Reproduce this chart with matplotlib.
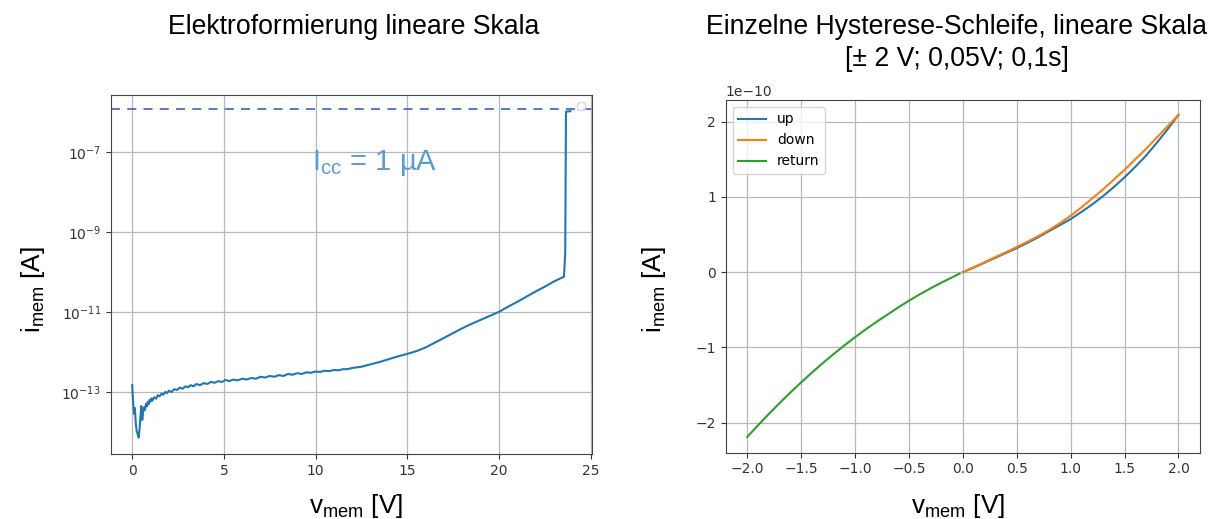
import matplotlib
matplotlib.use("Agg")
import matplotlib.pyplot as plt
from matplotlib.ticker import NullLocator, MultipleLocator
import numpy as np

plt.rcParams["mathtext.default"] = "regular"

# ---- Electroforming sweep (log10 of current in A) ----
form_v = [0.00, 0.05, 0.10, 0.15, 0.20, 0.25, 0.30, 0.35, 0.40, 0.45, 0.50, 0.55,
          0.60, 0.65, 0.70, 0.75, 0.80, 0.85, 0.90, 0.95, 1.00, 1.05, 1.10, 1.20,
          1.30, 1.40, 1.50, 1.60, 1.70, 1.80, 1.90, 2.00, 2.15, 2.30, 2.45, 2.60,
          2.75, 2.90, 3.05, 3.20, 3.35, 3.50, 3.70, 3.90, 4.10, 4.30, 4.50, 4.70,
          4.90, 5.10, 5.30, 5.50, 5.75, 6.00, 6.25, 6.50, 6.75, 7.00, 7.25, 7.50,
          7.75, 8.00, 8.25, 8.50, 8.75, 9.00, 9.25, 9.50, 9.75, 10.00, 10.25, 10.50,
          10.75, 11.00, 11.25, 11.50, 11.75, 12.00, 12.50, 13.00, 13.50, 14.00,
          14.50, 15.00, 15.50, 16.00, 16.50, 17.00, 17.50, 18.00, 18.50, 19.00,
          19.50, 20.00, 20.50, 21.00, 21.50, 22.00, 22.50, 23.00, 23.55, 23.62,
          23.66, 23.75, 23.90]
form_log_i = [-12.83, -13.25, -13.55, -13.40, -13.80, -13.98, -14.05, -14.14, -13.95,
              -13.62, -13.35, -13.70,
              -13.50, -13.38, -13.45, -13.30, -13.36, -13.25, -13.31, -13.20, -13.24,
              -13.16, -13.22, -13.13, -13.17, -13.08, -13.11, -13.04, -13.07, -13.00,
              -13.03, -12.97, -13.00, -12.93, -12.95, -12.89, -12.92, -12.86, -12.88,
              -12.83, -12.86, -12.80, -12.83, -12.78, -12.80, -12.75, -12.77, -12.73,
              -12.75, -12.70, -12.73, -12.69, -12.71, -12.67, -12.69, -12.65, -12.67,
              -12.62, -12.64, -12.60, -12.62, -12.58, -12.60, -12.55, -12.57, -12.53,
              -12.55, -12.51, -12.52, -12.49, -12.50, -12.47, -12.48, -12.45, -12.46,
              -12.43, -12.43, -12.40, -12.37, -12.31, -12.25, -12.18, -12.11, -12.05,
              -11.98, -11.89, -11.77, -11.65, -11.53, -11.41, -11.30, -11.20, -11.10,
              -11.00, -10.87, -10.75, -10.62, -10.49, -10.37, -10.24, -10.12, -9.55,
              -6.00, -5.99, -5.985]
compliance_a = 1.15e-6

# ---- Single hysteresis loop (current in units of 1e-10 A) ----
up_v = [0.0, 0.1, 0.2, 0.3, 0.4, 0.5, 0.6, 0.7, 0.8, 0.9, 1.0,
        1.1, 1.2, 1.3, 1.4, 1.5, 1.6, 1.7, 1.8, 1.9, 2.0]
up_i = [0.0, 0.06, 0.125, 0.19, 0.255, 0.32, 0.39, 0.465, 0.545, 0.625, 0.705,
        0.80, 0.90, 1.01, 1.13, 1.26, 1.40, 1.55, 1.72, 1.90, 2.09]
down_v = [2.0, 1.9, 1.8, 1.7, 1.6, 1.5, 1.4, 1.3, 1.2, 1.1, 1.0,
          0.9, 0.8, 0.7, 0.6, 0.5, 0.4, 0.3, 0.2, 0.1, 0.0]
down_i = [2.09, 1.94, 1.79, 1.64, 1.50, 1.36, 1.23, 1.10, 0.98, 0.86, 0.75,
          0.65, 0.56, 0.48, 0.405, 0.335, 0.265, 0.20, 0.13, 0.065, 0.0]
return_v = [-0.03, -0.1, -0.2, -0.3, -0.4, -0.5, -0.6, -0.7, -0.8, -0.9, -1.0,
            -1.1, -1.2, -1.3, -1.4, -1.5, -1.6, -1.7, -1.8, -1.9, -2.0]
return_i = [-0.02, -0.07, -0.14, -0.215, -0.295, -0.38, -0.47, -0.565, -0.66, -0.76,
            -0.865, -0.975, -1.09, -1.21, -1.335, -1.465, -1.60, -1.74, -1.885,
            -2.035, -2.19]

W, H = 1218, 519
fig = plt.figure(figsize=(W / 100, H / 100), dpi=100)

def box(x0, y0, x1, y1):
    return [x0 / W, 1 - y1 / H, (x1 - x0) / W, (y1 - y0) / H]

label_font = dict(family="Liberation Sans", fontsize=18.8)
title_font = dict(family="Liberation Sans", fontsize=19.2)
tick_size = 10

# Left: electroforming
ax1 = fig.add_axes(box(110.7, 95, 592, 454))
ax1.plot(form_v, 10 ** np.array(form_log_i), color="#1f77b4", lw=1.5)
ax1.axhline(compliance_a, color="#4472C4", lw=1.3, ls=(0, (5, 4)))
ax1.set_yscale("log")
ax1.set_xlim(-1.17, 25.08)
ax1.set_ylim(10 ** -14.55, 10 ** -5.58)
ax1.set_yticks([1e-13, 1e-11, 1e-9, 1e-7])
ax1.yaxis.set_minor_locator(NullLocator())
ax1.xaxis.set_major_locator(MultipleLocator(5))
ax1.grid(True, color="#b8b8b8", lw=0.9)
ax1.tick_params(labelsize=tick_size, colors="#333333")
ax1.legend(handles=[], loc="upper right", borderpad=0.3)
ax1.text(0.549, 0.81, "I$_{cc}$ = 1 µA", transform=ax1.transAxes, ha="center",
         va="center", color="#5B9BD5", family="Liberation Sans", fontsize=21)

# Right: hysteresis loop
ax2 = fig.add_axes(box(725.7, 100, 1200, 452.7))
ax2.plot(up_v, np.array(up_i) * 1e-10, color="#1f77b4", lw=1.5, label="up")
ax2.plot(down_v, np.array(down_i) * 1e-10, color="#ff7f0e", lw=1.5, label="down")
ax2.plot(return_v, np.array(return_i) * 1e-10, color="#2ca02c", lw=1.5, label="return")
ax2.set_xlim(-2.2, 2.2)
ax2.set_ylim(-2.40e-10, 2.288e-10)
ax2.xaxis.set_major_locator(MultipleLocator(0.5))
ax2.yaxis.set_major_locator(MultipleLocator(1e-10))
ax2.grid(True, color="#b8b8b8", lw=0.9)
ax2.tick_params(labelsize=tick_size, colors="#333333")
ax2.yaxis.get_offset_text().set_fontsize(tick_size)
ax2.legend(loc="upper left", fontsize=tick_size)

for ax in (ax1, ax2):
    for s in ax.spines.values():
        s.set_color("#444444")

# Axis labels and titles
fig.text(33 / W, 1 - 290 / H, "i$_{mem}$ [A]", rotation=90, ha="center", va="center", **label_font)
fig.text(654 / W, 1 - 290 / H, "i$_{mem}$ [A]", rotation=90, ha="center", va="center", **label_font)
fig.text(356 / W, 1 - 506 / H, "v$_{mem}$ [V]", ha="center", va="center", **label_font)
fig.text(958 / W, 1 - 506 / H, "v$_{mem}$ [V]", ha="center", va="center", **label_font)
fig.text(354 / W, 1 - 27 / H, "Elektroformierung lineare Skala", ha="center", va="center", **title_font)
fig.text(957 / W, 1 - 27 / H, "Einzelne Hysterese-Schleife, lineare Skala", ha="center", va="center", **title_font)
fig.text(957 / W, 1 - 59 / H, "[± 2 V; 0,05V; 0,1s]", ha="center", va="center", **title_font)

fig.savefig("out.png", dpi=100)
